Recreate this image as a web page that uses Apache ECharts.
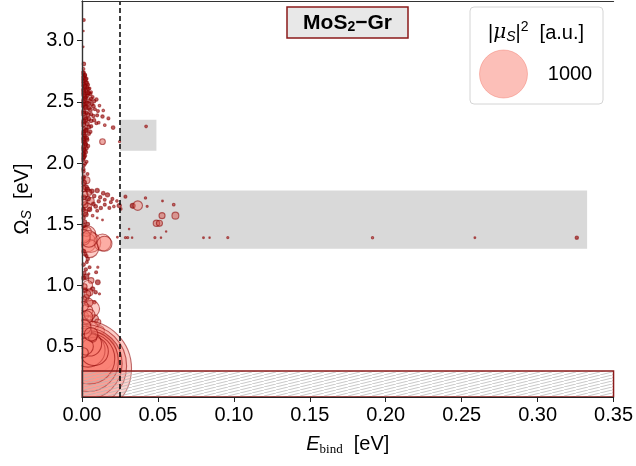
<!DOCTYPE html>
<html>
<head>
<meta charset="utf-8">
<script src="https://cdn.jsdelivr.net/npm/echarts@6/dist/echarts.min.js"></script>
<style>
  html, body { margin: 0; padding: 0; background: #fff; }
  #chart { width: 636px; height: 466px; }
</style>
</head>
<body>
<div id="chart"></div>
<script>
// exciton binding energy [eV]
const bindE = [
  0.0012, 0.0010, 0.0008, 0.0012, 0.0010,
  0.0010, 0.0020, 0.0012, 0.0030, 0.0008, 0.0025, 0.0040, 0.0015, 0.0035, 0.0050, 0.0010, 0.0028, 0.0060, 0.0045,
  0.0012, 0.0035, 0.0070, 0.0022, 0.0095, 0.0050, 0.0008, 0.0030, 0.0065, 0.0115, 0.0018, 0.0045, 0.0085, 0.0140,
  0.0010, 0.0030, 0.0060, 0.0100, 0.0135, 0.0020, 0.0174, 0.0045, 0.0080, 0.0012, 0.0110, 0.0035, 0.0150, 0.0205, 0.0060, 0.0015,
  0.0030, 0.0008, 0.0045, 0.0020, 0.0010, 0.0035, 0.0135, 0.0247, 0.0015, 0.0025, 0.0008, 0.0030, 0.0015, 0.0422,
  0.0010, 0.0020, 0.0008, 0.0030, 0.0012, 0.0008, 0.0036, 0.0012, 0.0030,
  0.0025, 0.0047, 0.0100, 0.0140, 0.0168, 0.0200, 0.0230, 0.0058, 0.0110, 0.0190, 0.0245, 0.0036, 0.0090, 0.0124,
  0.0180, 0.0210, 0.0255, 0.0014, 0.0070, 0.0135, 0.0100, 0.0012, 0.0020, 0.0008,
  0.0286, 0.0334, 0.0367, 0.0418, 0.0429, 0.0530, 0.0604, 0.0527, 0.0615, 0.0490, 0.0510, 0.0554, 0.0310,
  0.0233, 0.0286, 0.0301, 0.0330, 0.0480, 0.0520, 0.0800, 0.0840, 0.0960, 0.1913, 0.2587, 0.3258,
  0.0038, 0.0020, 0.0038, 0.0027, 0.0058, 0.0135, 0.0148, 0.0050, 0.0015, 0.0030,
  0.0023, 0.0038, 0.0032, 0.0050, 0.0104, 0.0093, 0.0045, 0.0060, 0.0104, 0.0038, 0.0070, 0.0050, 0.0090,
  0.0115, 0.0028, 0.0082, 0.0015, 0.0020,
  0.0060, 0.0032, 0.0082, 0.0104, 0.0038, 0.0067, 0.0115, 0.0015, 0.0020,
  0.0038, 0.0028, 0.0060, 0.0093, 0.0070, 0.0010, 0.0020, 0.0030, 0.0040, 0.0050, 0.0040, 0.0080, 0.0050,
  0.0020, 0.0010, 0.0070, 0.0025,
  // second pass over the dense column
  0.0005, 0.0018, 0.0006, 0.0022, 0.0032, 0.0006, 0.0020, 0.0042, 0.0008, 0.0038, 0.0055, 0.0020, 0.0060, 0.0080,
  0.0015, 0.0040, 0.0006, 0.0075, 0.0025, 0.0055, 0.0105, 0.0008, 0.0040, 0.0075, 0.0025, 0.0060, 0.0095, 0.0008,
  0.0045, 0.0025, 0.0055, 0.0012, 0.0030, 0.0006, 0.0022, 0.0040, 0.0010, 0.0025, 0.0008, 0.0012, 0.0006, 0.0020,
  0.0010, 0.0008, 0.0012,
  0.0008, 0.0035, 0.0065, 0.0020, 0.0080, 0.0120, 0.0040, 0.0150, 0.0010, 0.0075, 0.0150, 0.0050, 0.0100, 0.0025,
  0.0010, 0.0020, 0.0010,
  0.0010, 0.0045,
  0.0012, 0.0030, 0.0010, 0.0025, 0.0010, 0.0028, 0.0015, 0.0035, 0.0010, 0.0045,
  0.0010, 0.0050, 0.0030, 0.0012, 0.0060
];
// exciton energy [eV]
const omegaS = [
  3.17, 3.08, 2.95, 2.81, 2.77,
  2.74, 2.72, 2.70, 2.69, 2.67, 2.66, 2.64, 2.63, 2.62, 2.61, 2.60, 2.59, 2.58, 2.57,
  2.56, 2.55, 2.54, 2.53, 2.52, 2.51, 2.50, 2.49, 2.48, 2.47, 2.46, 2.45, 2.44, 2.43,
  2.42, 2.41, 2.40, 2.39, 2.38, 2.37, 2.365, 2.36, 2.35, 2.34, 2.33, 2.32, 2.31, 2.29, 2.30, 2.28,
  2.27, 2.25, 2.24, 2.22, 2.20, 2.19, 2.175, 2.175, 2.17, 2.15, 2.13, 2.12, 2.10, 2.30,
  2.08, 2.06, 2.04, 2.01, 1.98, 1.95, 1.91, 1.89, 1.86,
  1.80, 1.76, 1.775, 1.753, 1.74, 1.707, 1.69, 1.69, 1.687, 1.68, 1.652, 1.64, 1.645, 1.633,
  1.633, 1.645, 1.625, 1.597, 1.57, 1.535, 1.55, 1.72, 1.66, 1.62,
  1.725, 1.65, 1.652, 1.715, 1.646, 1.69, 1.66, 1.57, 1.57, 1.507, 1.507, 1.44, 1.46,
  1.393, 1.39, 1.39, 1.39, 1.39, 1.39, 1.39, 1.39, 1.39, 1.39, 1.39, 1.39,
  1.50, 1.47, 1.42, 1.35, 1.35, 1.35, 1.34, 1.30, 1.38, 1.44,
  1.257, 1.216, 1.19, 1.148, 1.148, 1.107, 1.094, 1.04, 1.025, 1.00, 0.97, 0.944, 0.944,
  0.93, 0.90, 0.862, 1.10, 0.96,
  0.808, 0.794, 0.726, 0.70, 0.712, 0.657, 0.63, 0.75, 0.68,
  0.59, 0.55, 0.51, 0.454, 0.413, 0.32, 0.34, 0.36, 0.38, 0.40, 0.47, 0.46, 0.52,
  0.50, 0.45, 0.57, 0.62,
  2.735, 2.715, 2.695, 2.685, 2.655, 2.645, 2.625, 2.605, 2.585, 2.575, 2.565, 2.545, 2.525, 2.505,
  2.515, 2.485, 2.475, 2.465, 2.455, 2.435, 2.425, 2.405, 2.395, 2.385, 2.355, 2.345, 2.325, 2.315,
  2.295, 2.265, 2.255, 2.235, 2.205, 2.185, 2.16, 2.14, 2.115, 2.09, 2.07, 2.05, 2.025, 1.995,
  1.93, 1.875, 1.84,
  1.79, 1.785, 1.77, 1.745, 1.73, 1.72, 1.71, 1.70, 1.68, 1.665, 1.66, 1.62, 1.61, 1.58,
  1.55, 1.52, 1.49,
  1.40, 1.38,
  1.28, 1.24, 1.17, 1.13, 1.06, 1.07, 0.99, 0.93, 0.88, 0.86,
  0.83, 0.76, 0.74, 0.66, 0.60
];
// |mu_S|^2 [a.u.]
const muSq = [
  4, 1, 1.5, 6, 3,
  6, 5, 8, 4, 7, 6, 4, 9, 5, 3, 8, 7, 3, 5,
  10, 6, 4, 8, 5, 7, 9, 6, 5, 3, 8, 7, 4, 3,
  9, 6, 5, 4, 5, 8, 4, 6, 5, 10, 3, 7, 3, 6, 5, 8,
  6, 9, 5, 7, 10, 5, 14, 2, 8, 6, 7, 5, 8, 3,
  6, 5, 7, 4, 4, 6, 4, 5, 20,
  12, 14, 8, 6, 8, 4, 3, 20, 5, 4, 8, 28, 6, 5,
  4, 3, 3, 20, 3, 1.5, 1.5, 10, 15, 8,
  4, 11, 39, 2.5, 2, 1.5, 3, 16, 21, 18, 16, 1, 1,
  1.5, 2, 2, 1, 2, 1, 1.5, 1, 2, 2.5, 1.5, 5,
  6, 10, 110, 170, 174, 125, 98, 140, 60, 40,
  4, 5, 4, 4, 2, 4, 2, 14, 10, 40, 8, 20, 5,
  2, 15, 5, 6, 10,
  125, 62, 28, 16, 43, 62, 43, 30, 50,
  85, 250, 390, 694, 1085, 4000, 3000, 2200, 1600, 1100, 500, 350, 250,
  120, 40, 30, 60,
  7, 6, 9, 7, 6, 10, 8, 6, 10, 7, 5, 9, 6, 5,
  11, 8, 10, 6, 9, 7, 4, 10, 8, 5, 9, 6, 4, 10,
  7, 8, 5, 9, 7, 10, 7, 5, 9, 6, 7, 6, 6, 4,
  5, 7, 12,
  15, 10, 8, 14, 6, 5, 10, 4, 16, 6, 4, 8, 4, 10,
  6, 5, 8,
  80, 120,
  5, 4, 6, 5, 8, 12, 14, 20, 18, 30,
  40, 50, 70, 90, 80
];

const xTicks = [0, 0.05, 0.10, 0.15, 0.20, 0.25, 0.30, 0.35];
const yTicks = [0.5, 1.0, 1.5, 2.0, 2.5, 3.0];
const yRange = [0.087, 3.325];
// shaded windows: [xFrom, xTo, yFrom, yTo]
const grayBoxes = [
  [0.025, 0.049, 2.10, 2.355],
  [0.025, 0.3326, 1.30, 1.775]
];
const hatchTop = 0.3;
const cutoffE = 0.025;
const legendValue = 1000;

const FONT = 'Liberation Sans';
const refSize = 48; // px diameter of a 1000 a.u. marker

function markerSize(v) {
  return refSize * Math.sqrt(v / legendValue);
}

// tiny markers are mostly edge, so they read as dark red
function markerFill(v) {
  if (v <= 3) return 'rgba(170,20,20,0.7)';
  if (v <= 12) return 'rgba(150,10,10,0.8)';
  if (v <= 30) return 'rgba(215,75,65,0.6)';
  return 'rgba(250,128,114,0.5)';
}

function makeHatch() {
  const c = document.createElement('canvas');
  c.width = 12;
  c.height = 3;
  const g = c.getContext('2d');
  g.fillStyle = 'rgba(255,255,255,0.15)';
  g.fillRect(0, 0, 12, 3);
  g.strokeStyle = 'rgba(180,180,180,0.9)';
  g.lineWidth = 0.8;
  g.beginPath();
  g.moveTo(0, 3);
  g.lineTo(12, 0);
  g.stroke();
  return c;
}

const points = bindE.map((e, i) => [e, omegaS[i], muSq[i]]);

const chart = echarts.init(document.getElementById('chart'));

chart.setOption({
  animation: false,
  grid: { left: 82, right: 21, top: 1, bottom: 69 },
  xAxis: [{
    type: 'value',
    min: 0,
    max: 0.35,
    interval: 0.05,
    z: 10,
    axisLine: { show: true, lineStyle: { color: '#222', width: 1.2 } },
    axisTick: { show: true, length: 5, lineStyle: { color: '#222' } },
    axisLabel: { fontSize: 20, fontFamily: FONT, color: '#000', margin: 8, formatter: v => v.toFixed(2) },
    splitLine: { show: false },
    name: '{i|E}{s|bind}{t|  [eV]}',
    nameLocation: 'middle',
    nameGap: 36,
    nameTextStyle: {
      rich: {
        i: { fontSize: 20, fontFamily: FONT, fontStyle: 'italic', color: '#000' },
        s: { fontSize: 13, fontFamily: 'Liberation Serif', color: '#000', padding: [10, 0, 0, 0] },
        t: { fontSize: 20, fontFamily: FONT, color: '#000' }
      }
    }
  }, {
    type: 'value',
    min: 0,
    max: 0.35,
    position: 'top',
    z: 10,
    axisLine: { show: true, lineStyle: { color: '#333', width: 1.2 } },
    axisTick: { show: false },
    axisLabel: { show: false },
    splitLine: { show: false }
  }],
  yAxis: [{
    type: 'value',
    min: yRange[0],
    max: yRange[1],
    z: 10,
    axisLine: { show: true, lineStyle: { color: '#222', width: 1.2 } },
    axisTick: { show: true, length: 5, customValues: yTicks, lineStyle: { color: '#222' } },
    axisLabel: { fontSize: 20, fontFamily: FONT, color: '#000', margin: 8, customValues: yTicks, formatter: v => v.toFixed(1) },
    splitLine: { show: false },
    name: '{o|Ω}{s|S}{t|  [eV]}',
    nameLocation: 'middle',
    nameGap: 48,
    nameRotate: 90,
    nameTextStyle: {
      rich: {
        o: { fontSize: 20, fontFamily: FONT, color: '#000' },
        s: { fontSize: 14, fontFamily: FONT, fontStyle: 'italic', color: '#000', padding: [10, 0, 0, 0] },
        t: { fontSize: 20, fontFamily: FONT, color: '#000' }
      }
    }
  }, {
    type: 'value',
    min: yRange[0],
    max: yRange[1],
    position: 'right',
    z: 10,
    axisLine: { show: true, lineStyle: { color: '#333', width: 1.2 } },
    axisTick: { show: false },
    axisLabel: { show: false },
    splitLine: { show: false }
  }],
  graphic: [
    // keep big markers inside the axes box
    { type: 'rect', z: 5, silent: true, shape: { x: 0, y: 0, width: 81.4, height: 466 }, style: { fill: '#fff' } },
    { type: 'rect', z: 5, silent: true, shape: { x: 0, y: 397.6, width: 636, height: 70 }, style: { fill: '#fff' } },
    // title box
    { type: 'rect', z: 20, shape: { x: 287, y: 7, width: 121, height: 31 },
      style: { fill: '#e8e8e8', stroke: '#8b1a1a', lineWidth: 1.5 } },
    { type: 'text', z: 21, x: 347.5, y: 23,
      style: {
        text: '{b|MoS}{s|2}{b|−Gr}',
        align: 'center', verticalAlign: 'middle',
        rich: {
          b: { fontSize: 21, fontWeight: 'bold', fontFamily: FONT, fill: '#000' },
          s: { fontSize: 14, fontWeight: 'bold', fontFamily: FONT, fill: '#000', padding: [9, 0, 0, 0] }
        }
      } },
    // size legend
    { type: 'rect', z: 20, shape: { x: 470, y: 7, width: 133, height: 97, r: 4 },
      style: { fill: 'rgba(255,255,255,0.85)', stroke: '#d4d4d4', lineWidth: 1 } },
    { type: 'text', z: 21, x: 536, y: 33,
      style: {
        text: '{n||}{m|μ}{s|S}{n||}{p|2}{n|  [a.u.]}',
        align: 'center', verticalAlign: 'middle',
        rich: {
          n: { fontSize: 20, fontFamily: FONT, fill: '#000' },
          m: { fontSize: 20, fontFamily: 'DejaVu Serif', fontStyle: 'italic', fill: '#000' },
          s: { fontSize: 14, fontFamily: FONT, fontStyle: 'italic', fill: '#000', padding: [9, 0, 0, 0] },
          p: { fontSize: 14, fontFamily: FONT, fill: '#000', padding: [0, 0, 11, 0] }
        }
      } },
    { type: 'circle', z: 21, shape: { cx: 503.5, cy: 74, r: markerSize(legendValue) / 2 },
      style: { fill: 'rgba(250,128,114,0.5)', stroke: 'rgba(240,110,95,0.4)', lineWidth: 1 } },
    { type: 'text', z: 21, x: 570, y: 74,
      style: { text: String(legendValue), fontSize: 20, fontFamily: FONT, fill: '#000', align: 'center', verticalAlign: 'middle' } }
  ],
  series: [
    {
      name: 'windows',
      type: 'scatter',
      z: 1,
      data: [],
      markArea: {
        z: 1,
        silent: true,
        itemStyle: { color: '#d9d9d9' },
        label: { show: false },
        data: grayBoxes.map(b => [{ xAxis: b[0], yAxis: b[2] }, { xAxis: b[1], yAxis: b[3] }])
      }
    },
    {
      name: 'excitons',
      type: 'scatter',
      z: 2,
      data: points,
      symbolSize: val => markerSize(val[2]),
      itemStyle: {
        color: p => markerFill(p.value[2]),
        borderColor: 'rgba(139,0,0,0.7)',
        borderWidth: 1.1
      }
    },
    {
      name: 'overlay',
      type: 'scatter',
      z: 3,
      data: [],
      markArea: {
        z: 3,
        silent: true,
        label: { show: false },
        itemStyle: {
          color: { image: makeHatch(), repeat: 'repeat' },
          borderColor: '#8b1a1a',
          borderWidth: 1.5
        },
        data: [[{ xAxis: xTicks[0], yAxis: yRange[0] }, { xAxis: xTicks[xTicks.length - 1], yAxis: hatchTop }]]
      },
      markLine: {
        z: 4,
        silent: true,
        precision: 4,
        symbol: 'none',
        label: { show: false },
        lineStyle: { color: '#000', type: [5, 3], width: 1.5 },
        data: [{ xAxis: cutoffE }]
      }
    }
  ]
});
</script>
</body>
</html>
